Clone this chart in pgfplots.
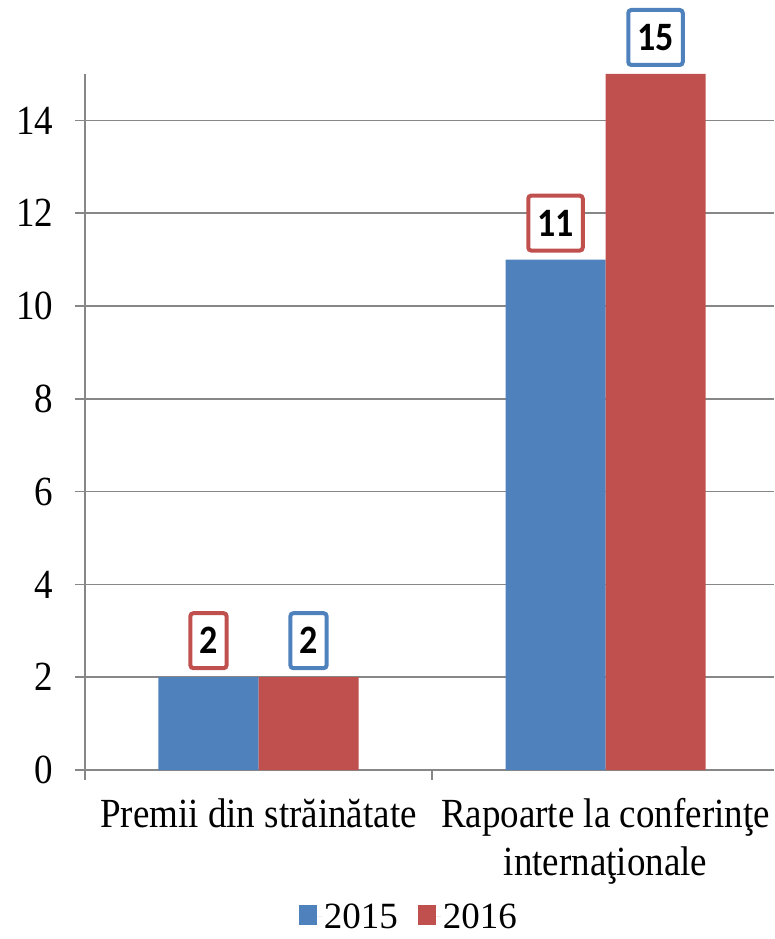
\documentclass[border=0pt]{standalone}
\usepackage{pgfplots}
\pgfplotsset{compat=1.18}
\usepackage{fontspec}
\setmainfont{Liberation Serif}
\newfontfamily\lblfont{Carlito}
\definecolor{c15}{HTML}{4F81BD}
\definecolor{c16}{HTML}{C0504D}
\definecolor{gridgray}{HTML}{878787}
\newcommand{\tall}[1]{\scalebox{1}[1.12]{#1}}

\begin{document}
\begin{tikzpicture}
\useasboundingbox (-85pt,-169pt) rectangle (689pt,770pt);
\begin{axis}[
  at={(0pt,0pt)}, anchor=south west,
  scale only axis, width=689pt, height=696pt,
  xmin=-0.5, xmax=1.4856, ymin=0, ymax=15,
  ybar=0pt, bar width=100pt,
  axis lines=left,
  axis line style={-, draw=gridgray, line width=1.5pt},
  ymajorgrids, grid style={draw=gridgray, line width=1.5pt},
  ytick={0,2,...,14},
  tick align=outside, major tick length=10pt,
  tick style={draw=gridgray, line width=1.5pt},
  xtick={-0.5,0.5}, xticklabels={},
  extra x ticks={0,1},
  extra x tick labels={\tall{\begin{tabular}{@{}c@{}}Premii din străinătate\end{tabular}},
    \tall{\begin{tabular}{@{}c@{}}Rapoarte la conferinţe\\internaţionale\end{tabular}}},
  extra x tick style={major tick length=0pt, grid=none},
  xticklabel style={font=\fontsize{37}{43}\selectfont, yshift=-20pt},
  /pgf/number format/assume math mode=true,
  yticklabel={\tall{\pgfmathprintnumber{\tick}}},
  yticklabel style={font=\fontsize{37}{43}\selectfont, xshift=-18pt},
  nodes near coords={\tall{\pgfmathprintnumber{\pgfplotspointmeta}}},
  every node near coord/.append style={font=\lblfont\bfseries\fontsize{36}{43}\selectfont,
    fill=white, text=black, line width=4pt, rounded corners=3pt,
    inner xsep=9pt, minimum height=55pt, anchor=south, yshift=7pt},
  legend columns=2,
  legend style={at={(0.47,-0.19)}, anchor=north, draw=none, inner sep=0pt,
    font=\fontsize{37}{43}\selectfont,
    nodes={inner ysep=1pt},
    /tikz/every even column/.append style={column sep=18pt}},
  legend image code/.code={\fill[#1] (0pt,-9pt) rectangle (18pt,11pt);
    \path (0pt,0pt) -- (23pt,0pt);},
  clip=false,
]
\addplot[fill=c15, draw=none, every node near coord/.append style={draw=c16}]
  coordinates {(0,2) (1,11)};
\addplot[fill=c16, draw=none, every node near coord/.append style={draw=c15}]
  coordinates {(0,2) (1,15)};
\legend{2015,2016}
\end{axis}
\end{tikzpicture}
\end{document}
